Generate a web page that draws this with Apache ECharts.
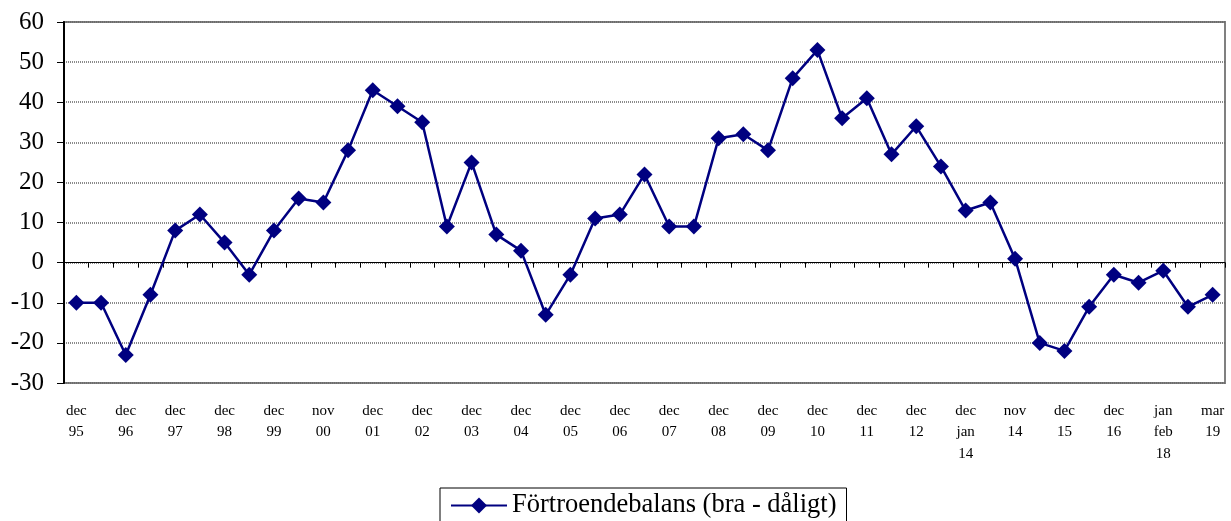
<!DOCTYPE html>
<html lang="sv">
<head>
    <meta charset="UTF-8">
    <title>Förtroendebalans</title>
    <script src="https://cdn.jsdelivr.net/npm/echarts@6/dist/echarts.min.js"></script>
</head>
<body style="margin:0;background:#fff;">
<div id="chart" style="width:1231px;height:521px;"></div>
<script>
    // kategorier (varannan har etikett)
    let kategorier = [
        'dec\n95', '', 'dec\n96', '', 'dec\n97', '', 'dec\n98', '', 'dec\n99', '',
        'nov\n00', '', 'dec\n01', '', 'dec\n02', '', 'dec\n03', '', 'dec\n04', '',
        'dec\n05', '', 'dec\n06', '', 'dec\n07', '', 'dec\n08', '', 'dec\n09', '',
        'dec\n10', '', 'dec\n11', '', 'dec\n12', '', 'dec\njan\n14', '', 'nov\n14', '',
        'dec\n15', '', 'dec\n16', '', 'jan\nfeb\n18', '', 'mar\n19'
    ];
    let balans = [
        -10, -10, -23, -8, 8, 12, 5, -3, 8, 16,
        15, 28, 43, 39, 35, 9, 25, 7, 3, -13,
        -3, 11, 12, 22, 9, 9, 31, 32, 28, 46,
        53, 36, 41, 27, 34, 24, 13, 15, 1, -20,
        -22, -11, -3, -5, -2, -11, -8
    ];
    let yMin = -30, yMax = 60, ySteg = 10;

    let chart = echarts.init(document.getElementById('chart'));
    let font = '"Liberation Serif", "Times New Roman", serif';

    let option = {
        animation: false,
        textStyle: { fontFamily: font },
        grid: {
            left: 64, right: 6, top: 22, bottom: 138,
            outerBoundsMode: 'none', containLabel: false,
            show: true, borderColor: '#808080', borderWidth: 2
        },
        xAxis: [{
            // nollinjen med streck
            type: 'category',
            data: kategorier,
            position: 'top',
            boundaryGap: true,
            axisLine: { onZero: true, lineStyle: { color: '#000', width: 1 } },
            axisTick: { show: true, inside: true, interval: 0, length: 5, lineStyle: { color: '#000' } },
            axisLabel: { show: false },
            splitLine: { show: false }
        }, {
            // etiketter nedtill
            type: 'category',
            data: kategorier,
            position: 'bottom',
            boundaryGap: true,
            axisLine: { show: false, onZero: false },
            axisTick: { show: false },
            axisLabel: {
                interval: 0, margin: 17, color: '#000', fontSize: 15,
                lineHeight: 21.5, fontFamily: font
            },
            splitLine: { show: false }
        }],
        yAxis: {
            type: 'value',
            min: yMin, max: yMax, interval: ySteg,
            axisLine: { show: true, lineStyle: { color: '#000', width: 2 } },
            axisTick: { show: true, length: 7, lineStyle: { color: '#000' } },
            axisLabel: { color: '#000', fontSize: 25, margin: 20, fontFamily: font },
            splitLine: { lineStyle: { color: '#666', width: 1.5, type: [1, 1] } }
        },
        legend: {
            top: 488, left: 440,
            data: ['Förtroendebalans (bra - dåligt)'],
            borderColor: '#000', borderWidth: 1,
            padding: [4, 10, 10, 10],
            itemWidth: 56, itemHeight: 20, itemGap: 4,
            textStyle: { fontSize: 26.5, color: '#000', fontFamily: font }
        },
        series: [{
            name: 'Förtroendebalans (bra - dåligt)',
            type: 'line',
            data: balans,
            symbol: 'diamond',
            symbolSize: 16,
            itemStyle: { color: '#000080' },
            lineStyle: { color: '#000080', width: 2.5 }
        }]
    };
    chart.setOption(option);
</script>
</body>
</html>
